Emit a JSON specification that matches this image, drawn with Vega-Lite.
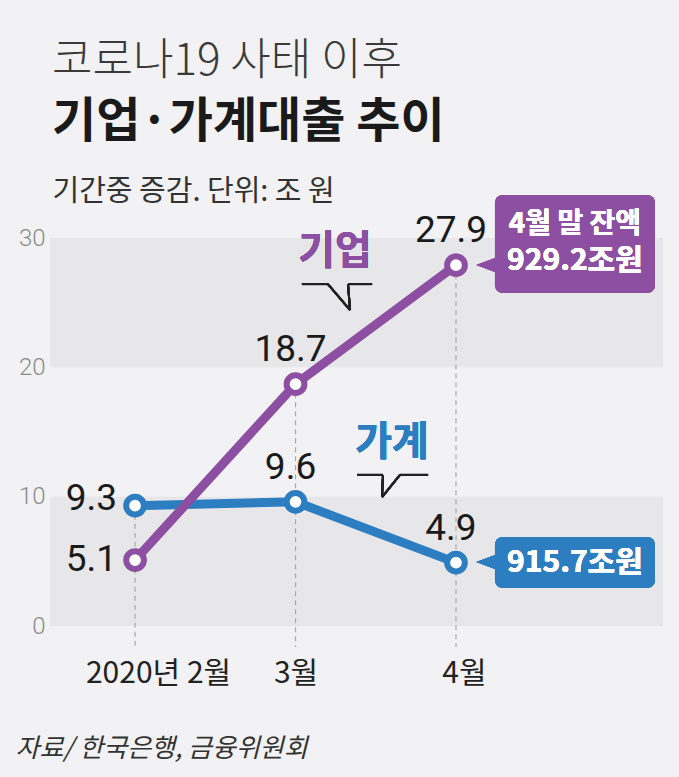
{
  "$schema": "https://vega.github.io/schema/vega-lite/v6.json",
  "width": 613,
  "height": 388,
  "autosize": "none",
  "padding": {"left": 50, "top": 238, "right": 16, "bottom": 151},
  "background": "#f2f2f4",
  "title": {
    "text": "코로나19 사태 이후",
    "subtitle": "기업·가계대출 추이",
    "anchor": "start",
    "frame": "group",
    "font": "Noto Sans CJK KR",
    "fontSize": 44,
    "fontWeight": 300,
    "color": "#3a3a3a",
    "subtitleFont": "Noto Sans CJK KR",
    "subtitleFontSize": 48,
    "subtitleFontWeight": "bold",
    "subtitleColor": "#1a1a1a",
    "subtitlePadding": 15,
    "offset": 30,
    "dx": 2
  },
  "config": {"view": {"stroke": null}},
  "datasets": {
    "loans": [
      {"m": 0, "s": "가계", "v": 9.3},
      {"m": 1, "s": "가계", "v": 9.6},
      {"m": 2, "s": "가계", "v": 4.9},
      {"m": 0, "s": "기업", "v": 5.1},
      {"m": 1, "s": "기업", "v": 18.7},
      {"m": 2, "s": "기업", "v": 27.9}
    ],
    "bands": [
      {"lo": 0, "hi": 10},
      {"lo": 20, "hi": 30}
    ]
  },
  "data": {"name": "loans"},
  "encoding": {
    "x": {
      "field": "m",
      "type": "quantitative",
      "scale": {"domain": [-0.53, 3.29], "nice": false, "zero": false},
      "axis": {
        "values": [0, 1, 2],
        "labelExpr": "datum.value == 0 ? '2020년 2월' : (datum.value == 1 ? '3월' : '4월')",
        "domain": false,
        "ticks": false,
        "grid": false,
        "labelFont": "Noto Sans CJK KR",
        "labelFontSize": 30,
        "labelColor": "#222222",
        "labelBaseline": "middle",
        "labelPadding": 47,
        "labelFlush": false,
        "labelOverlap": false,
        "labelOffset": {"condition": [{"test": "datum.value == 0", "value": 23}, {"test": "datum.value == 2", "value": 8}], "value": 0},
        "title": "자료/ 한국은행, 금융위원회",
        "titleFont": "Noto Sans CJK KR",
        "titleFontSize": 26,
        "titleFontWeight": "normal",
        "titleFontStyle": "italic",
        "titleColor": "#333333",
        "titleAnchor": "start",
        "titleAlign": "left",
        "titleBaseline": "middle",
        "titleX": -35,
        "titleY": 122
      }
    },
    "y": {
      "field": "v",
      "type": "quantitative",
      "scale": {"domain": [0, 30], "nice": false},
      "axis": {
        "values": [0, 10, 20, 30],
        "domain": false,
        "ticks": false,
        "grid": false,
        "labelFont": "Roboto",
        "labelFontWeight": 300,
        "labelFontSize": 24,
        "labelColor": "#8a8a8a",
        "labelPadding": 5,
        "labelBaseline": "middle",
        "title": "기간중 증감. 단위: 조 원",
        "titleAngle": 0,
        "titleAlign": "left",
        "titleBaseline": "middle",
        "titleX": 2,
        "titleY": -47,
        "titleFont": "Noto Sans CJK KR",
        "titleFontSize": 29,
        "titleFontWeight": "normal",
        "titleColor": "#333333"
      }
    }
  },
  "layer": [
    {
      "data": {"name": "bands"},
      "mark": {"type": "rect", "color": "#e7e7e9"},
      "encoding": {
        "x": null,
        "y": {"field": "lo", "type": "quantitative"},
        "y2": {"field": "hi"}
      }
    },
    {
      "mark": {"type": "rule", "color": "#a9a9a9", "strokeWidth": 1.2, "strokeDash": [5, 4]},
      "encoding": {
        "y": {"aggregate": "max", "field": "v", "type": "quantitative"},
        "y2": {"datum": -1.62}
      }
    },
    {
      "transform": [{"filter": "datum.s == '가계'"}],
      "mark": {"type": "line", "color": "#2d7dc1", "strokeWidth": 9}
    },
    {
      "transform": [{"filter": "datum.s == '기업'"}],
      "mark": {"type": "line", "color": "#8c4fa2", "strokeWidth": 9}
    },
    {
      "mark": {"type": "point", "filled": false, "fill": "white", "fillOpacity": 1, "opacity": 1, "strokeWidth": 6, "size": 314},
      "encoding": {
        "stroke": {"field": "s", "type": "nominal", "scale": {"domain": ["기업", "가계"], "range": ["#8c4fa2", "#2d7dc1"]}, "legend": null}
      }
    },
    {
      "transform": [{"filter": "datum.m == 0 && datum.s == '가계'"}],
      "mark": {"type": "text", "font": "Roboto", "fontSize": 37, "letterSpacing": -2, "color": "#1a1a1a", "align": "right", "baseline": "middle", "dx": -18, "dy": -7},
      "encoding": {"text": {"field": "v", "type": "quantitative", "format": ".1f"}}
    },
    {
      "transform": [{"filter": "datum.m == 0 && datum.s == '기업'"}],
      "mark": {"type": "text", "font": "Roboto", "fontSize": 37, "letterSpacing": -2, "color": "#1a1a1a", "align": "right", "baseline": "middle", "dx": -18, "dy": 0},
      "encoding": {"text": {"field": "v", "type": "quantitative", "format": ".1f"}}
    },
    {
      "transform": [{"filter": "datum.m > 0"}],
      "mark": {"type": "text", "font": "Roboto", "fontSize": 37, "letterSpacing": -2, "color": "#1a1a1a", "align": "center", "baseline": "middle", "dx": -5, "dy": -34},
      "encoding": {"text": {"field": "v", "type": "quantitative", "format": ".1f"}}
    },
    {
      "mark": {"type": "rect", "color": "#8c4fa2", "cornerRadius": 8},
      "encoding": {"x": {"datum": 2.243}, "x2": {"datum": 3.24}, "y": {"datum": 25.75}, "y2": {"datum": 33.33}}
    },
    {
      "mark": {"type": "point", "shape": "M 1 -0.75 L -1 0 L 1 0.75 Z", "filled": true, "color": "#8c4fa2", "opacity": 1, "size": 400, "strokeWidth": 0},
      "encoding": {"x": {"datum": 2.19}, "y": {"datum": 27.91}}
    },
    {
      "mark": {"type": "rect", "color": "#2d7dc1", "cornerRadius": 8},
      "encoding": {"x": {"datum": 2.243}, "x2": {"datum": 3.24}, "y": {"datum": 2.94}, "y2": {"datum": 6.88}}
    },
    {
      "mark": {"type": "point", "shape": "M 1 -0.75 L -1 0 L 1 0.75 Z", "filled": true, "color": "#2d7dc1", "opacity": 1, "size": 400, "strokeWidth": 0},
      "encoding": {"x": {"datum": 2.19}, "y": {"datum": 4.95}}
    },
    {
      "mark": {"type": "text", "text": "4월 말 잔액", "font": "Noto Sans CJK KR", "fontSize": 28, "fontWeight": "bold", "color": "white", "align": "center", "baseline": "middle"},
      "encoding": {"x": {"datum": 2.741}, "y": {"datum": 31.0}}
    },
    {
      "mark": {"type": "text", "text": "929.2조원", "font": "Noto Sans CJK KR", "fontSize": 30, "fontWeight": "bold", "color": "white", "align": "center", "baseline": "middle"},
      "encoding": {"x": {"datum": 2.741}, "y": {"datum": 28.2}}
    },
    {
      "mark": {"type": "text", "text": "915.7조원", "font": "Noto Sans CJK KR", "fontSize": 30, "fontWeight": "bold", "color": "white", "align": "center", "baseline": "middle"},
      "encoding": {"x": {"datum": 2.741}, "y": {"datum": 4.85}}
    },
    {
      "mark": {"type": "text", "text": "기업", "font": "Noto Sans CJK KR", "fontSize": 40, "fontWeight": "bold", "color": "#8c4fa2", "align": "center", "baseline": "middle"},
      "encoding": {"x": {"datum": 1.246}, "y": {"datum": 28.92}}
    },
    {
      "mark": {"type": "text", "text": "가계", "font": "Noto Sans CJK KR", "fontSize": 40, "fontWeight": "bold", "color": "#2d7dc1", "align": "center", "baseline": "middle"},
      "encoding": {"x": {"datum": 1.601}, "y": {"datum": 14.15}}
    },
    {
      "mark": {"type": "rule", "color": "#222222", "strokeWidth": 2},
      "encoding": {"x": {"datum": 1.04}, "x2": {"datum": 1.202}, "y": {"datum": 26.44}, "y2": {"datum": 26.44}}
    },
    {
      "mark": {"type": "rule", "color": "#222222", "strokeWidth": 2},
      "encoding": {"x": {"datum": 1.202}, "x2": {"datum": 1.34}, "y": {"datum": 26.44}, "y2": {"datum": 24.43}}
    },
    {
      "mark": {"type": "rule", "color": "#222222", "strokeWidth": 2},
      "encoding": {"x": {"datum": 1.327}, "x2": {"datum": 1.34}, "y": {"datum": 26.44}, "y2": {"datum": 24.43}}
    },
    {
      "mark": {"type": "rule", "color": "#222222", "strokeWidth": 2},
      "encoding": {"x": {"datum": 1.327}, "x2": {"datum": 1.477}, "y": {"datum": 26.44}, "y2": {"datum": 26.44}}
    },
    {
      "mark": {"type": "rule", "color": "#222222", "strokeWidth": 2},
      "encoding": {"x": {"datum": 1.383}, "x2": {"datum": 1.545}, "y": {"datum": 11.68}, "y2": {"datum": 11.68}}
    },
    {
      "mark": {"type": "rule", "color": "#222222", "strokeWidth": 2},
      "encoding": {"x": {"datum": 1.545}, "x2": {"datum": 1.539}, "y": {"datum": 11.68}, "y2": {"datum": 9.97}}
    },
    {
      "mark": {"type": "rule", "color": "#222222", "strokeWidth": 2},
      "encoding": {"x": {"datum": 1.539}, "x2": {"datum": 1.651}, "y": {"datum": 9.97}, "y2": {"datum": 11.68}}
    },
    {
      "mark": {"type": "rule", "color": "#222222", "strokeWidth": 2},
      "encoding": {"x": {"datum": 1.651}, "x2": {"datum": 1.826}, "y": {"datum": 11.68}, "y2": {"datum": 11.68}}
    }
  ]
}
